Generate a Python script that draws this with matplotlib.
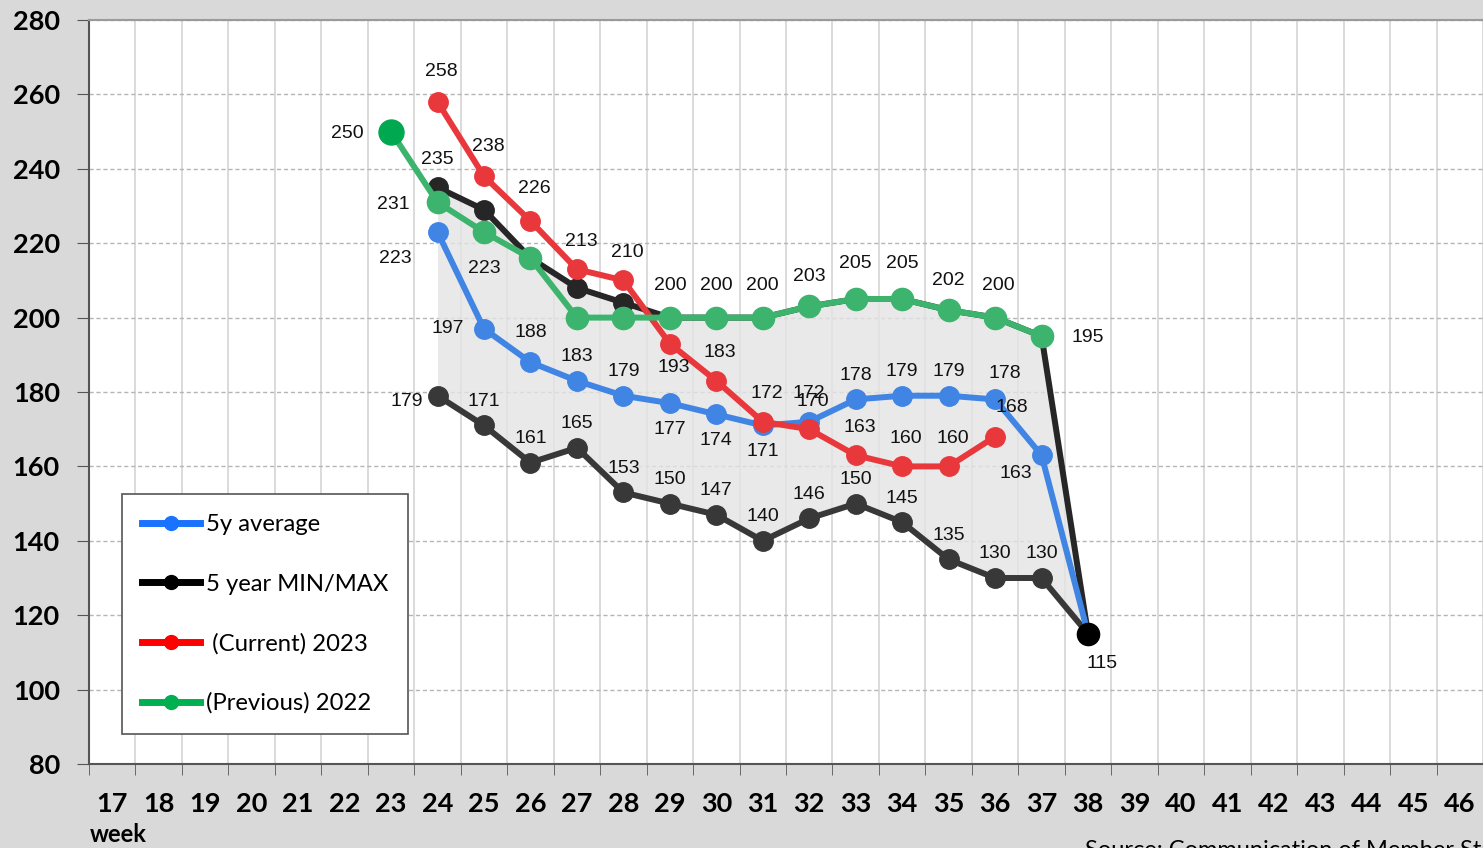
import numpy as np
import matplotlib
matplotlib.use("Agg")
import matplotlib.pyplot as plt
from matplotlib.lines import Line2D

# ── Datos ────────────────────────────────────────────────────────────────────
week_labels = [str(w) for w in range(17, 47)]

weeks_avg = [24, 25, 26, 27, 28, 29, 30, 31, 32, 33, 34, 35, 36, 37, 38]
avg_5y = [223, 197, 188, 183, 179, 177, 174, 171, 172, 178, 179, 179, 178, 163, 115]

weeks_mm = [24, 25, 26, 27, 28, 29, 30, 31, 32, 33, 34, 35, 36, 37, 38]
max_5y = [235, 229, 216, 208, 204, 200, 200, 200, 203, 205, 205, 202, 200, 195, 115]
min_5y = [179, 171, 161, 165, 153, 150, 147, 140, 146, 150, 145, 135, 130, 130, 115]

weeks_cur = [24, 25, 26, 27, 28, 29, 30, 31, 32, 33, 34, 35, 36]
cur_2023 = [258, 238, 226, 213, 210, 193, 183, 172, 170, 163, 160, 160, 168]

weeks_prev = [23, 24, 25, 26, 27, 28, 29, 30, 31, 32, 33, 34, 35, 36, 37]
prev_2022 = [250, 231, 223, 216, 200, 200, 200, 200, 200, 203, 205, 205, 202, 200, 195]

# etiquetas visibles: desplazamiento en px respecto al punto
OFF = {"up": (0, 24), "down": (0, -26)}
labels_avg = {24: (-42, -26), 25: (-36, 0), 26: (0, 30), 27: "up", 28: "up", 29: "down",
              30: "down", 31: "down", 32: (0, 28), 33: "up", 34: "up", 35: "up",
              36: (10, 26), 37: (-26, -18)}
labels_max = {24: (0, 28)}
labels_min = {24: (-31, -6), 25: "up", 26: "up", 27: "up", 28: "up", 29: "up",
              30: "up", 31: "up", 32: "up", 33: "up", 34: "up", 35: "up",
              36: "up", 37: "up", 38: (14, -30)}
labels_cur = {24: (4, 30), 25: (4, 30), 26: (4, 32), 27: (4, 28), 28: (4, 28),
              29: (4, -24), 30: (4, 28), 31: (4, 28), 32: (4, 28), 33: (4, 28),
              34: (4, 28), 35: (4, 28), 36: (17, 29)}
labels_prev = {23: (-44, -2), 24: (-44, -2), 25: (0, -36), 29: (0, 32), 30: (0, 32),
               31: (0, 32), 32: (0, 30), 33: (0, 36), 34: (0, 36), 35: (0, 30),
               36: (3, 32), 37: (46, -1)}

C_BLUE = "#4084e4"
C_BLACK = "#383838"
C_RED = "#e8383c"
C_GREEN = "#3cb46e"


def pos(weeks):
    return np.array(weeks) - 17


fig = plt.figure(figsize=(14.83, 8.48), dpi=100, facecolor="#d9d9d9")
ax = fig.add_axes([89 / 1483, 84 / 848, (1483 - 89) / 1483, 744 / 848])
ax.set_facecolor("white")

# sombra entre min y max
ax.fill_between(pos(weeks_mm), min_5y, max_5y, color="#e4e4e4", alpha=0.8,
                lw=0, zorder=1)

ax.plot(pos(weeks_mm), min_5y, color=C_BLACK, lw=4.3, marker="o", ms=14, zorder=3)
ax.plot(pos(weeks_mm), max_5y, color="#262626", lw=4.3, marker="o", ms=14, zorder=3)
ax.plot(pos(weeks_mm)[-1:], min_5y[-1:], color="black", marker="o", ms=16,
        ls="none", zorder=6)
ax.plot(pos(weeks_avg), avg_5y, color=C_BLUE, lw=4.3, marker="o", ms=14, zorder=4)
ax.plot(pos(weeks_cur), cur_2023, color=C_RED, lw=4.3, marker="o", ms=14, zorder=5)
ax.plot(pos(weeks_prev), prev_2022, color=C_GREEN, lw=4.3, marker="o", ms=16, zorder=5)
ax.plot(pos(weeks_prev)[:1], prev_2022[:1], color="#00a84f", marker="o", ms=18,
        ls="none", zorder=6)


def etiquetar(weeks, values, spec):
    for w, v in zip(weeks, values):
        if w not in spec:
            continue
        off = spec[w]
        if isinstance(off, str):
            off = OFF[off]
        ax.annotate(str(v), (w - 17, v), xytext=off, textcoords="offset pixels",
                    ha="center", va="center", fontsize=14,
                    family="Liberation Sans", color="#111111", zorder=10)


etiquetar(weeks_avg, avg_5y, labels_avg)
etiquetar(weeks_mm, max_5y, labels_max)
etiquetar(weeks_mm, min_5y, labels_min)
etiquetar(weeks_cur, cur_2023, labels_cur)
etiquetar(weeks_prev, prev_2022, labels_prev)

# ejes
ax.set_xlim(-0.5, 29.38)
ax.set_ylim(80, 280)
ax.set_yticks(np.arange(80, 281, 20))
ax.set_xticks(np.arange(len(week_labels)))
ax.set_xticklabels(week_labels)
ax.set_xticks(np.arange(-0.5, len(week_labels), 1), minor=True)
ax.tick_params(axis="x", which="major", length=0, pad=20)
ax.tick_params(axis="x", which="minor", length=8, direction="out", color="#555555")
ax.tick_params(axis="y", length=9, direction="out", color="#555555", pad=12)
for lab in ax.get_xticklabels() + ax.get_yticklabels():
    lab.set_family("Lato")
    lab.set_fontweight("bold")
    lab.set_fontsize(19.5)

ax.grid(axis="x", which="minor", color="#d4d4d4", lw=1.2, ls="-")
ax.grid(axis="y", which="major", color="#b5b5b5", lw=1, ls=(0, (3, 2)))
ax.set_axisbelow(True)

for s in ["left", "bottom"]:
    ax.spines[s].set_color("#555555")
    ax.spines[s].set_linewidth(1.5)
ax.spines["top"].set_color("#9a9a9a")
ax.spines["top"].set_linewidth(1.5)
ax.spines["right"].set_visible(False)

fig.text(90 / 1483, 1 - 835 / 848, "week", family="Lato", fontweight="bold",
         fontsize=17, va="center", ha="left")
fig.text(1085 / 1483, 1 - 840 / 848, "Source: Communication of Member States",
         family="Lato", fontsize=17, va="top", ha="left")

# leyenda
handles = [
    Line2D([], [], color="#1a73ff", lw=5, marker="o", ms=10),
    Line2D([], [], color="black", lw=5, marker="o", ms=10),
    Line2D([], [], color="#ff0000", lw=5, marker="o", ms=10),
    Line2D([], [], color="#00b050", lw=5, marker="o", ms=10),
]
nombres = ["5y average", "5 year MIN/MAX", " (Current) 2023", "(Previous) 2022"]
leg = ax.legend(handles, nombres, loc="upper left",
                bbox_to_anchor=(122 / 1483, 1 - 494 / 848),
                bbox_transform=fig.transFigure,
                prop={"family": "Lato", "size": 17.2}, frameon=True,
                fancybox=False, edgecolor="#555555", framealpha=1,
                handlelength=2.4, handletextpad=0.25, labelspacing=1.6,
                borderpad=0.85, borderaxespad=0)
leg.get_frame().set_linewidth(1.2)
leg.set_zorder(20)

fig.savefig("out.png", dpi=100, facecolor=fig.get_facecolor())
